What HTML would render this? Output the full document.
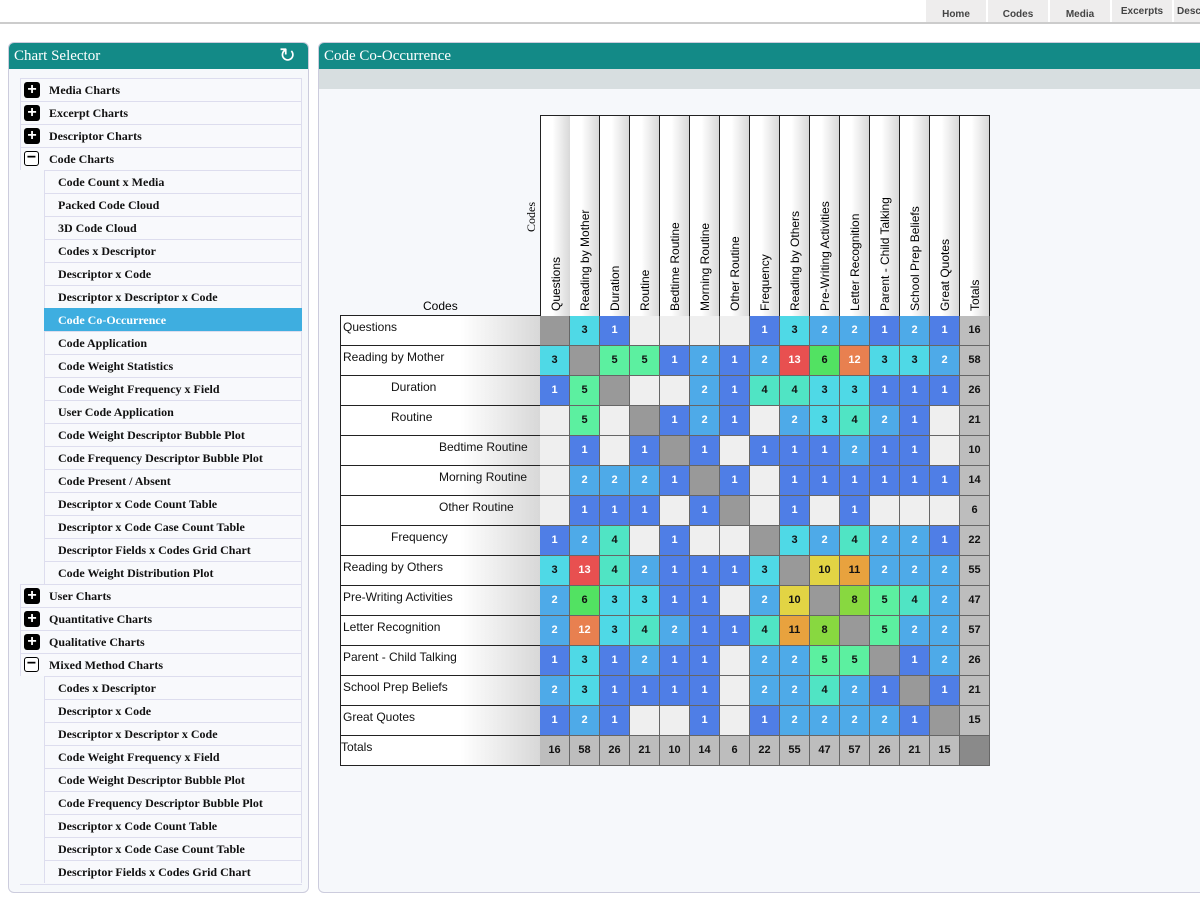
<!DOCTYPE html>
<html><head><meta charset="utf-8"><style>
body{margin:0;width:1200px;height:900px;background:#fff;position:relative;overflow:hidden;font-family:"Liberation Serif",serif}
.abs{position:absolute}
.tab{position:absolute;top:0;height:22px;background:#eeeded;font:bold 10px "Liberation Sans",sans-serif;color:#444;text-align:center;line-height:30px}
.panel{position:absolute;top:42px;border:1px solid #ccd;border-radius:6px;background:#f6f8fb;overflow:hidden}
.ph{height:26px;background:#138a87;color:#fff;font-size:15px;line-height:26px;padding-left:5px}
.li{position:absolute;height:22px;border:1px solid #dde;border-bottom:none;background:#f8f9fc;font-weight:bold;font-size:12px;line-height:22px;color:#111}
.ic{position:absolute;left:3px;top:3px;width:16px;height:16px;border-radius:3px;background:#000;color:#fff;font:bold 16px/16px "Liberation Sans";text-align:center}
.ic.m{background:#fff;border:1.5px solid #000;width:13px;height:13px;color:#000;line-height:12px}
.c{position:absolute;width:29px;height:29px;border-right:1px solid #666;border-bottom:1px solid #666;font:bold 11px/29px "Liberation Sans",sans-serif;text-align:center}
.rl{position:absolute;left:340px;width:199px;height:29px;border:1px solid #222;border-right:none;border-top:none;background:linear-gradient(90deg,#fff 60%,#d8d8d8);font:12px/22px "Liberation Sans",sans-serif;color:#111}
.ch{position:absolute;top:115px;width:29px;height:200px;border:1px solid #222;border-left:none;background:linear-gradient(90deg,#fff 40%,#d8d8d8)}
.ch span{position:absolute;bottom:5px;transform:rotate(-90deg);transform-origin:left bottom;white-space:nowrap;font:12px "Liberation Sans",sans-serif;left:22px}
</style></head><body>
<div class="abs" style="left:0;top:22px;width:1200px;height:2px;background:#ccc"></div>
<div class="tab" style="left:926px;width:60px">Home</div>
<div class="tab" style="left:988px;width:60px">Codes</div>
<div class="tab" style="left:1050px;width:60px">Media</div>
<div class="tab" style="left:1112px;width:60px;line-height:24px">Excerpts</div>
<div class="tab" style="left:1174px;width:30px;line-height:24px">Desc</div>

<div class="panel" style="left:8px;width:299px;height:849px"><div class="ph">Chart Selector<span style="position:absolute;left:270px;top:0;font:20px 'DejaVu Sans'">↻</span></div></div>
<div class="panel" style="left:318px;width:890px;height:849px"><div class="ph">Code Co-Occurrence</div><div style="height:20px;background:#d7dee0"></div></div>
<div id="list"></div>
<div id="grid"></div>
<script>
var items=[[0,'+','Media Charts'],[0,'+','Excerpt Charts'],[0,'+','Descriptor Charts'],[0,'-','Code Charts'],[1,'','Code Count x Media'],[1,'','Packed Code Cloud'],[1,'','3D Code Cloud'],[1,'','Codes x Descriptor'],[1,'','Descriptor x Code'],[1,'','Descriptor x Descriptor x Code'],[2,'','Code Co-Occurrence'],[1,'','Code Application'],[1,'','Code Weight Statistics'],[1,'','Code Weight Frequency  x Field'],[1,'','User Code Application'],[1,'','Code Weight Descriptor Bubble Plot'],[1,'','Code Frequency  Descriptor Bubble Plot'],[1,'','Code Present / Absent'],[1,'','Descriptor x Code Count Table'],[1,'','Descriptor x Code Case Count Table'],[1,'','Descriptor Fields  x Codes Grid Chart'],[1,'','Code Weight Distribution Plot'],[0,'+','User Charts'],[0,'+','Quantitative Charts'],[0,'+','Qualitative Charts'],[0,'-','Mixed Method Charts'],[1,'','Codes x Descriptor'],[1,'','Descriptor x Code'],[1,'','Descriptor x Descriptor x Code'],[1,'','Code Weight Frequency  x Field'],[1,'','Code Weight Descriptor Bubble Plot'],[1,'','Code Frequency  Descriptor Bubble Plot'],[1,'','Descriptor x Code Count Table'],[1,'','Descriptor x Code Case Count Table'],[1,'','Descriptor Fields  x Codes Grid Chart']];
var h='';items.forEach(function(it,i){var y=78+i*23;
if(it[0]==0)h+='<div class="li" style="left:20px;top:'+y+'px;width:280px;padding-left:0"><div class="ic'+(it[1]=='-'?' m':'')+'">'+(it[1]=='+'?'+':'−')+'</div><span style="position:absolute;left:28px">'+it[2]+'</span></div>';
else h+='<div class="li" style="left:44px;top:'+y+'px;width:243px;padding-left:13px;'+(it[0]==2?'background:#3eaee0;color:#fff;border-color:#3eaee0':'')+'">'+it[2]+'</div>';});
h+='<div class="abs" style="left:20px;top:884px;width:282px;border-top:1px solid #dde"></div>';
document.getElementById('list').innerHTML=h;
var names=['Questions','Reading by Mother','Duration','Routine','Bedtime Routine','Morning Routine','Other Routine','Frequency','Reading by Others','Pre-Writing Activities','Letter Recognition','Parent - Child Talking','School Prep Beliefs','Great Quotes'];
var ind=[0,0,48,48,96,96,96,48,0,0,0,0,0,0];
var D=-1,_=0;
var M=[[D,3,1,_,_,_,_,1,3,2,2,1,2,1,16],[3,D,5,5,1,2,1,2,13,6,12,3,3,2,58],[1,5,D,_,_,2,1,4,4,3,3,1,1,1,26],[_,5,_,D,1,2,1,_,2,3,4,2,1,_,21],[_,1,_,1,D,1,_,1,1,1,2,1,1,_,10],[_,2,2,2,1,D,1,_,1,1,1,1,1,1,14],[_,1,1,1,_,1,D,_,1,_,1,_,_,_,6],[1,2,4,_,1,_,_,D,3,2,4,2,2,1,22],[3,13,4,2,1,1,1,3,D,10,11,2,2,2,55],[2,6,3,3,1,1,_,2,10,D,8,5,4,2,47],[2,12,3,4,2,1,1,4,11,8,D,5,2,2,57],[1,3,1,2,1,1,_,2,2,5,5,D,1,2,26],[2,3,1,1,1,1,_,2,2,4,2,1,D,1,21],[1,2,1,_,_,1,_,1,2,2,2,2,1,D,15]];
var col={1:'#4f7ee6',2:'#4eaae8',3:'#4fd9e6',4:'#50e4c4',5:'#5cf0a0',6:'#52e262',8:'#88d840',10:'#e2d444',11:'#e8a23e',12:'#e88050',13:'#e85050'};
var wt={1:1,2:1,12:1,13:1};
var g='';
g+='<div class="abs" style="left:540px;top:115px;width:450px;border-top:1px solid #222"></div>';
names.concat(['Totals']).forEach(function(n,j){g+='<div class="ch" style="left:'+(540+j*30)+'px;'+(j==0?'border-left:1px solid #222;':'')+'"><span>'+n+'</span></div>';});
g+='<div class="abs" style="left:524px;top:232px;transform:rotate(-90deg);transform-origin:left top;font-size:12px">Codes</div><div class="abs" style="left:423px;top:299px;font:12px \'Liberation Sans\'">Codes</div>';
g+='<div class="abs" style="left:340px;top:315px;width:200px;border-top:1px solid #222"></div>';
for(var i=0;i<15;i++){var y=316+i*30;
g+='<div class="rl" style="top:'+y+'px;'+(i==14?'border-bottom:1px solid #222':'')+'"><span style="padding-left:'+(2+ind[i])+'px">'+(i<14?names[i]:'Totals')+'</span></div>';
for(var j=0;j<15;j++){var x=540+j*30,bg,v='',c='#111';
if(i==14){v=j<14?[16,58,26,21,10,14,6,22,55,47,57,26,21,15][j]:'';bg=j<14?'#bdbdbd':'#8a8a8a';}
else{var d=M[i][j];if(j==14){v=d;bg='#bdbdbd';}else if(d==-1)bg='#999';else if(d==0)bg='#efefef';else{v=d;bg=col[d];c=wt[d]?'#fff':'#111';}}
g+='<div class="c" style="left:'+x+'px;top:'+y+'px;background:'+bg+';color:'+c+'">'+v+'</div>';}}
document.getElementById('grid').innerHTML=g;
</script>
</body></html>
